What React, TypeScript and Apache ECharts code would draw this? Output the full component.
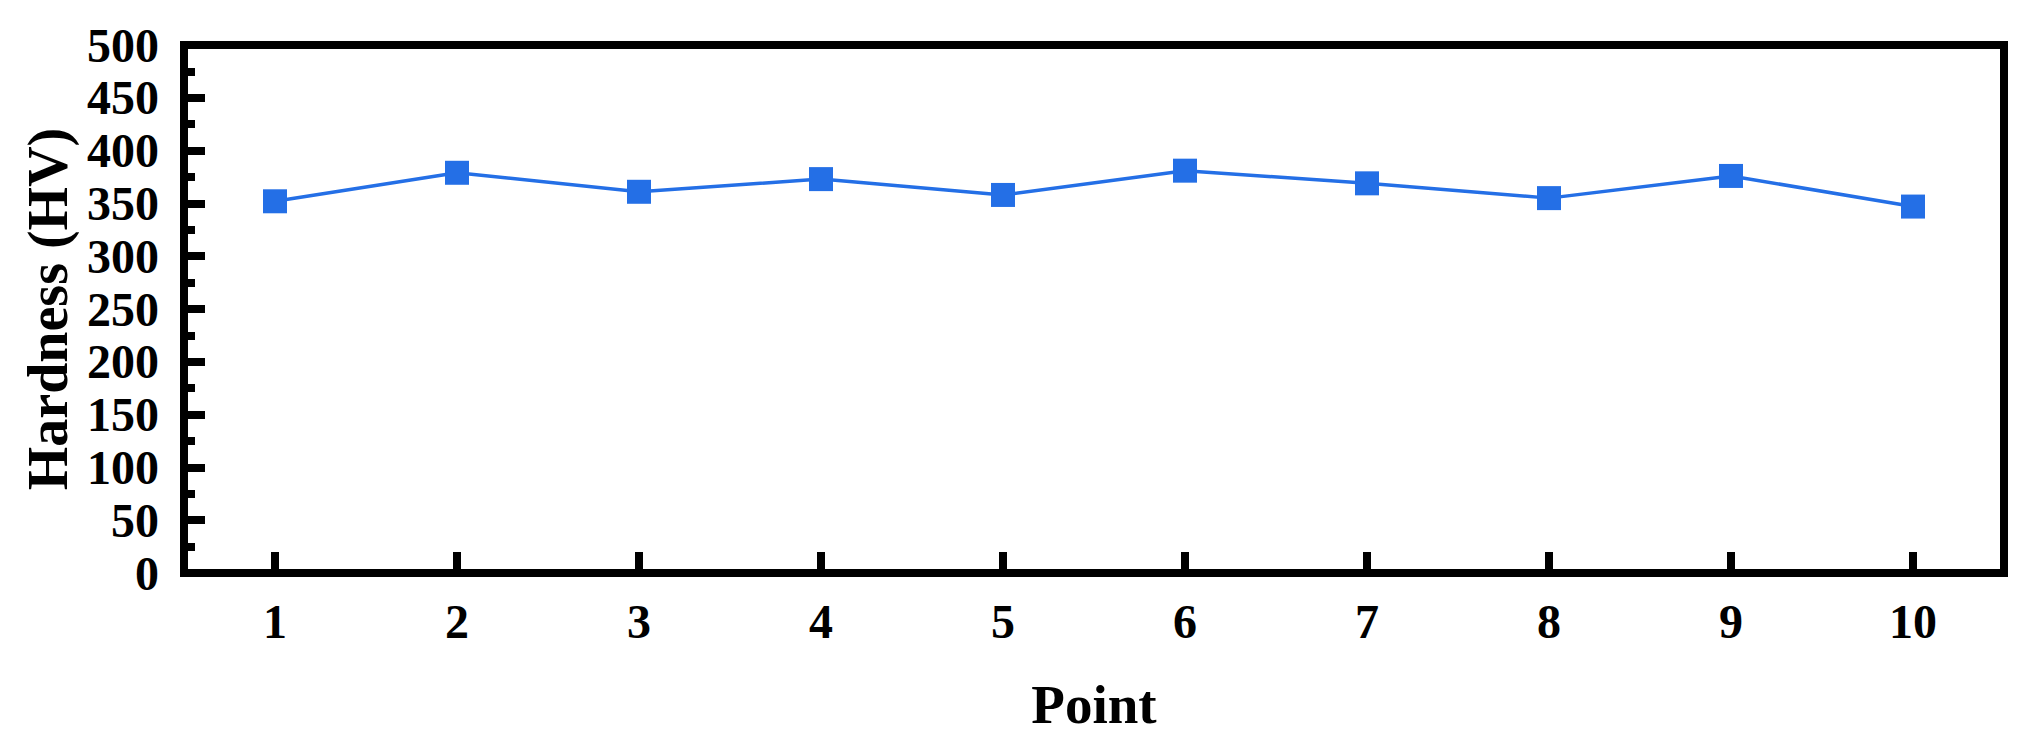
import React, { useEffect, useRef } from "react";
import * as echarts from "echarts";

const categories = ["1", "2", "3", "4", "5", "6", "7", "8", "9", "10"];
const hardness = [352, 379, 361, 373, 358, 381, 369, 355, 376, 347];
const yMin = 0;
const yMax = 500;
const yInterval = 50;

const FONT = "'Liberation Serif', 'Times New Roman', serif";

export default function App() {
  const ref = useRef<HTMLDivElement>(null);
  useEffect(() => {
    document.body.style.margin = "0";
    const chart = echarts.init(ref.current!, null, { renderer: "svg" });
    chart.setOption({
      animation: false,
      backgroundColor: "#ffffff",
      grid: {
        left: 184,
        right: 2037 - 2004,
        top: 45,
        bottom: 755 - 573,
        show: true,
        borderColor: "#000",
        borderWidth: 8,
        backgroundColor: "transparent",
      },
      xAxis: {
        type: "category",
        data: categories,
        boundaryGap: true,
        name: "Point",
        nameLocation: "middle",
        nameGap: 104,
        nameTextStyle: { fontFamily: FONT, fontWeight: "bold", fontSize: 55, color: "#000" },
        axisLine: { show: true, lineStyle: { color: "#000", width: 8 } },
        axisTick: { show: true, inside: true, length: 21, alignWithLabel: true, lineStyle: { color: "#000", width: 8 } },
        axisLabel: { fontFamily: FONT, fontWeight: "bold", fontSize: 48, color: "#000", margin: 24 },
        splitLine: { show: false },
      },
      yAxis: {
        type: "value",
        min: yMin,
        max: yMax,
        interval: yInterval,
        name: "Hardness (HV)",
        nameLocation: "middle",
        nameGap: 108,
        nameTextStyle: { fontFamily: FONT, fontWeight: "bold", fontSize: 56, color: "#000" },
        axisLine: { show: true, lineStyle: { color: "#000", width: 8 } },
        axisTick: { show: true, inside: true, length: 21, lineStyle: { color: "#000", width: 8 } },
        minorTick: { show: true, splitNumber: 2, length: 11, lineStyle: { color: "#000", width: 8 } },
        axisLabel: { fontFamily: FONT, fontWeight: "bold", fontSize: 48, color: "#000", margin: 25 },
        splitLine: { show: false },
      },
      series: [
        {
          type: "line",
          data: hardness,
          symbol: "rect",
          symbolSize: 24,
          lineStyle: { color: "#246FE6", width: 3.5 },
          itemStyle: { color: "#246FE6" },
        },
      ],
    });
    return () => chart.dispose();
  }, []);
  return <div ref={ref} style={{ width: 2037, height: 755 }} />;
}
